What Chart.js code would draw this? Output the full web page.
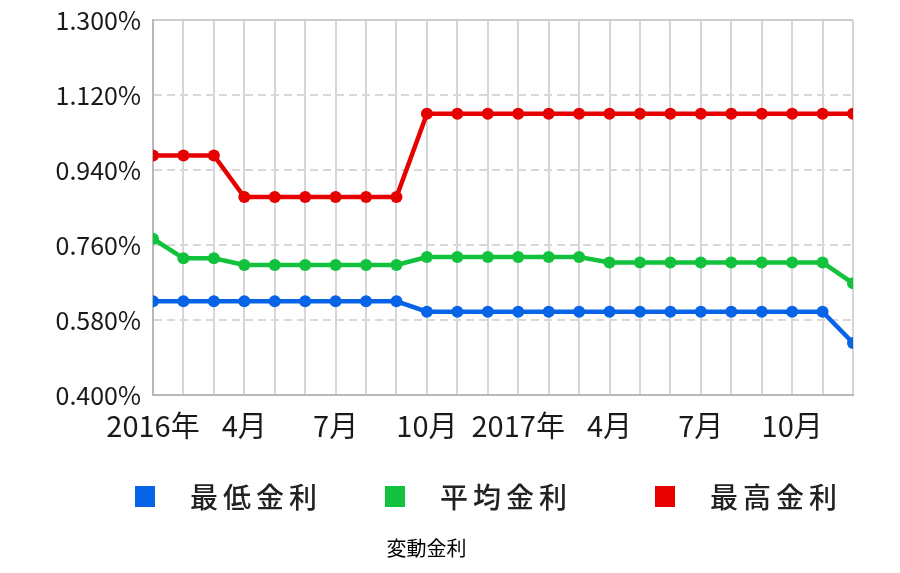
<!DOCTYPE html>
<html>
<head>
<meta charset="utf-8">
<script src="https://cdn.jsdelivr.net/npm/chart.js@4.4.1/dist/chart.umd.min.js"></script>
<style>
    html, body { margin: 0; background: #fff; }
    #wrap { width: 900px; height: 573px; }
</style>
</head>
<body>
<div id="wrap"><canvas id="rateChart"></canvas></div>
<script>
// 月ラベル（1・4・7・10月のみ表示）
const months = [
    '2016年', '', '', '4月', '', '', '7月', '', '', '10月', '', '',
    '2017年', '', '', '4月', '', '', '7月', '', '', '10月', '', '',
];
const minRates = [
    0.625, 0.625, 0.625, 0.625, 0.625, 0.625, 0.625, 0.625, 0.625, 0.600, 0.600, 0.600,
    0.600, 0.600, 0.600, 0.600, 0.600, 0.600, 0.600, 0.600, 0.600, 0.600, 0.600, 0.525,
];
const avgRates = [
    0.775, 0.728, 0.728, 0.712, 0.712, 0.712, 0.712, 0.712, 0.712, 0.731, 0.731, 0.731,
    0.731, 0.731, 0.731, 0.718, 0.718, 0.718, 0.718, 0.718, 0.718, 0.718, 0.718, 0.668,
];
const maxRates = [
    0.975, 0.975, 0.975, 0.875, 0.875, 0.875, 0.875, 0.875, 0.875, 1.075, 1.075, 1.075,
    1.075, 1.075, 1.075, 1.075, 1.075, 1.075, 1.075, 1.075, 1.075, 1.075, 1.075, 1.075,
];
const seriesNames = ['最低金利', '平均金利', '最高金利'];
const yMin = 0.4;
const yMax = 1.3;
const yStep = 0.18;

const fontFamily = '"Noto Sans CJK JP", "Noto Sans", sans-serif';
const colors = ['#0864e6', '#12c23c', '#e60000'];

function line(label, data, color) {
    return {
        label: label,
        data: data,
        borderColor: color,
        backgroundColor: color,
        borderWidth: 4.5,
        pointRadius: 6,
        pointHoverRadius: 6,
        pointBorderWidth: 0,
        tension: 0,
        clip: 0,
    };
}

// 凡例は下に手書き
const bottomLegend = {
    id: 'bottomLegend',
    afterDraw(chart) {
        const c = chart.ctx;
        const xs = [135, 385, 655];
        c.save();
        c.font = '500 28px ' + fontFamily;
        c.letterSpacing = '5px';
        c.textBaseline = 'middle';
        chart.data.datasets.forEach((ds, i) => {
            c.fillStyle = ds.borderColor;
            c.fillRect(xs[i], 486, 20, 21);
            c.fillStyle = '#222';
            c.fillText(ds.label, xs[i] + 55, 497);
        });
        c.restore();
    }
};

new Chart(document.getElementById('rateChart'), {
    type: 'line',
    data: {
        labels: months,
        datasets: [
            line(seriesNames[0], minRates, colors[0]),
            line(seriesNames[1], avgRates, colors[1]),
            line(seriesNames[2], maxRates, colors[2]),
        ]
    },
    options: {
        responsive: true,
        maintainAspectRatio: false,
        animation: false,
        layout: {
            padding: { top: 20, right: 47, left: 0, bottom: 0 }
        },
        scales: {
            x: {
                afterFit(scale) {
                    scale.height = 141;
                    scale.paddingLeft = 0;
                    scale.paddingRight = 0;
                },
                grid: {
                    color: '#d6d6d6',
                    lineWidth: 2,
                    drawTicks: false,
                },
                border: { color: '#b8b8b8', width: 2 },
                ticks: {
                    autoSkip: false,
                    maxRotation: 0,
                    padding: 14,
                    color: '#1a1a1a',
                    font: { family: fontFamily, size: 29 },
                },
            },
            y: {
                min: yMin,
                max: yMax,
                afterFit(scale) {
                    scale.width = 153;
                    scale.paddingTop = 0;
                    scale.paddingBottom = 0;
                },
                grid: {
                    color: (ctx) => (ctx.tick && ctx.tick.value >= yMax - 0.001) ? '#cccccc' : '#d8d8d8',
                    lineWidth: 2,
                    drawTicks: false,
                },
                border: {
                    color: '#b8b8b8',
                    width: 2,
                    dash: (ctx) => (ctx.tick && ctx.tick.value >= yMax - 0.001) ? [] : [8, 5],
                },
                ticks: {
                    stepSize: yStep,
                    padding: 12,
                    color: '#1a1a1a',
                    font: { family: fontFamily, size: 25 },
                    callback: (v) => Number(v).toFixed(3) + '%',
                },
            },
        },
        plugins: {
            legend: { display: false },
            tooltip: { enabled: false },
            title: {
                display: true,
                text: '変動金利',
                position: 'bottom',
                color: '#000',
                font: { family: fontFamily, size: 20, weight: 'normal' },
                padding: { top: 0, bottom: 13 },
            },
        },
    },
    plugins: [bottomLegend],
});
</script>
</body>
</html>
